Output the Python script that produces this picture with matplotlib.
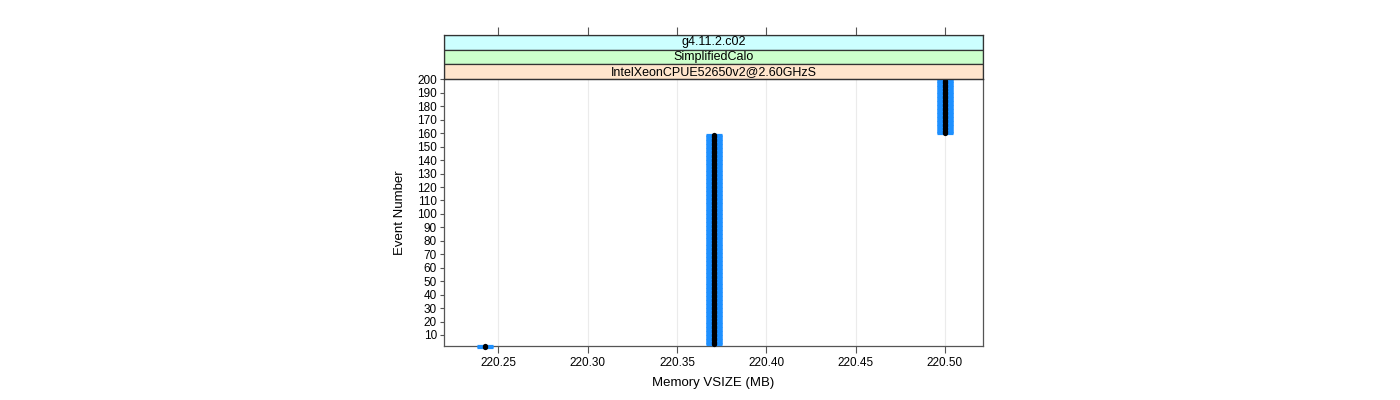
import matplotlib
matplotlib.use("Agg")
import matplotlib.pyplot as plt
import numpy as np
from matplotlib.patches import Rectangle

plt.rcParams['font.family'] = ['Liberation Sans', 'DejaVu Sans']

# Data: memory level per run of events
mem_levels = [220.2422, 220.3705, 220.5]
last_event = [2, 159, 200]
# strips listed top to bottom
strip_labels = ["g4.11.2.c02", "SimplifiedCalo", "IntelXeonCPUE52650v2@2.60GHzS"]
strip_colors = ["#ccffff", "#ccffcc", "#ffe5cc"]
x_ticks = [220.25, 220.30, 220.35, 220.40, 220.45, 220.50]
y_ticks = list(range(10, 201, 10))

events = np.arange(1, last_event[-1] + 1)
counts = np.diff([0] + last_event)
memory = np.repeat(mem_levels, counts)

W, H = 1400, 400
fig = plt.figure(figsize=(14, 4), dpi=100)

xlim = (220.2195, 220.5213)
edge = "#555555"

# Main panel
ax = fig.add_axes([444 / W, 54 / H, 539 / W, 267 / H])
ax.set_xlim(*xlim)
ax.set_ylim(1.8, 200.3)
for x in x_ticks:
    ax.axvline(x, color="#ebebeb", lw=0.8, zorder=0)
ax.plot(memory, events, ls="none", marker="_", ms=11.5, mew=2.3,
        color="#1e90ff", zorder=2, clip_on=False)
ax.plot(memory, events, ls="none", marker="o", ms=3.8, mew=0,
        color="black", zorder=3, clip_on=False)
ax.set_xticks(x_ticks)
ax.set_xticklabels([f"{x:.2f}" for x in x_ticks], fontsize=8.5)
ax.set_yticks(y_ticks)
ax.set_yticklabels([str(y) for y in y_ticks], fontsize=8.5)
ax.tick_params(axis="x", direction="out", length=5, width=0.8, color=edge, pad=3)
ax.tick_params(axis="y", direction="out", length=3, width=0.8, color=edge, pad=2)
for s in ax.spines.values():
    s.set_color(edge)
    s.set_linewidth(0.9)
    s.set_zorder(1)
ax.set_xlabel("Memory VSIZE (MB)", fontsize=9.5, labelpad=6)
ax.set_ylabel("Event Number", fontsize=9.5, labelpad=8)

# Strips above the panel
sax = fig.add_axes([444 / W, 321 / H, 539 / W, 44 / H])
sax.set_xlim(*xlim)
sax.set_ylim(3, 0)
for i, (lab, col) in enumerate(zip(strip_labels, strip_colors)):
    sax.add_patch(Rectangle((xlim[0], i), xlim[1] - xlim[0], 1, facecolor=col,
                            edgecolor="#333333", lw=0.9))
    sax.text(np.mean(xlim), i + 0.5, lab, ha="center", va="center", fontsize=9)
sax.set_yticks([])
sax.set_xticks(x_ticks)
sax.xaxis.tick_top()
sax.tick_params(axis="x", direction="out", length=6, width=0.8, color=edge,
                labeltop=False, labelbottom=False)
for s in sax.spines.values():
    s.set_color("#333333")
    s.set_linewidth(0.9)

fig.savefig("out.png", dpi=100)
